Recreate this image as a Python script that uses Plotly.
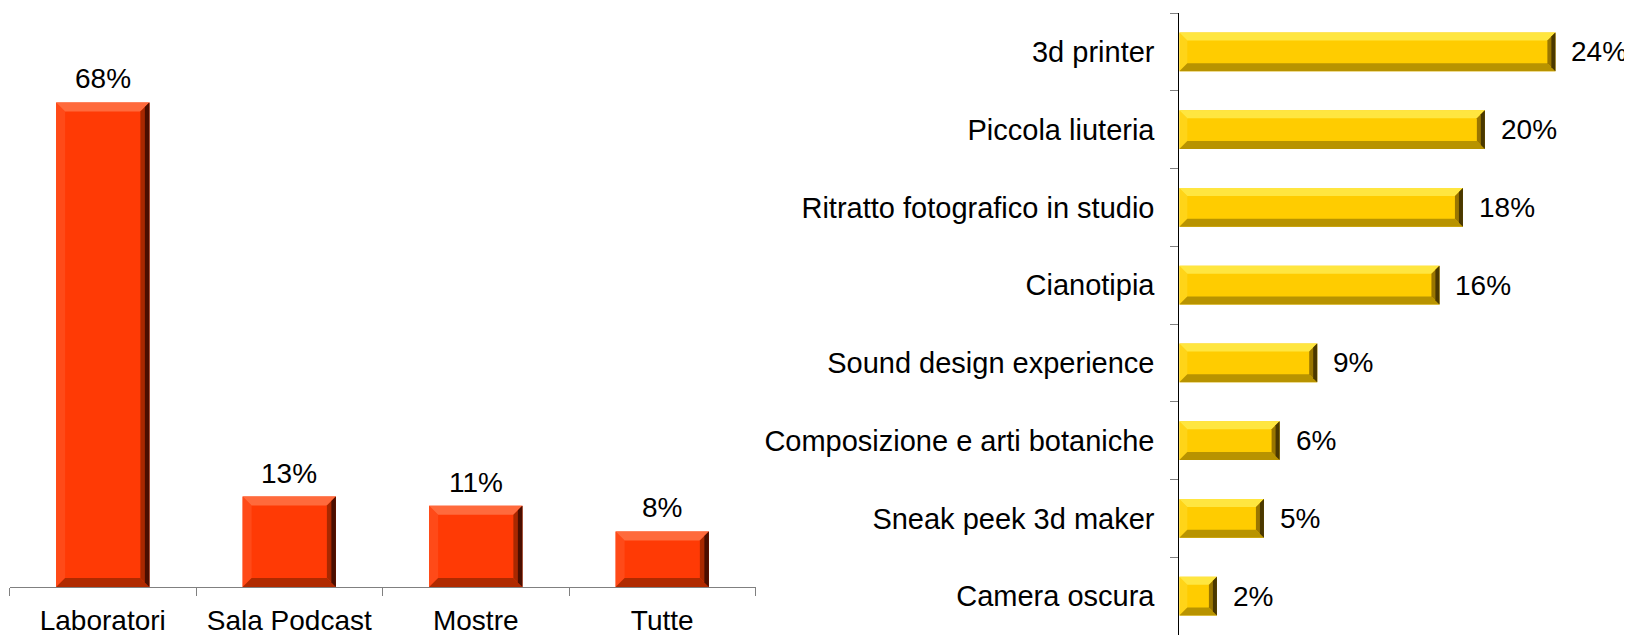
import plotly.graph_objects as go

# ---------------- data ----------------
left_categories = ["Laboratori", "Sala Podcast", "Mostre", "Tutte"]
left_values = [68, 12.7, 11.4, 7.8]
left_labels = ["68%", "13%", "11%", "8%"]

right_categories = ["3d printer", "Piccola liuteria", "Ritratto fotografico in studio",
                    "Cianotipia", "Sound design experience",
                    "Composizione e arti botaniche", "Sneak peek 3d maker", "Camera oscura"]
right_values = [24.0, 19.5, 18.1, 16.6, 8.8, 6.4, 5.4, 2.4]
right_labels = ["24%", "20%", "18%", "16%", "9%", "6%", "5%", "2%"]

# ---------------- style ----------------
OFF = 8                      # page offset of the plot div (body margin)
W, H = 1632 - OFF, 635 - OFF
FONT = "Liberation Sans, Arial, sans-serif"
RED = "#FF3A05"
YEL = "#FFCC00"
AXC = "#808080"

# positions in page pixels, converted to figure pixels
L_X0, L_X1 = 9.5 - OFF, 755.5 - OFF
L_BOT, L_TOP = 587 - OFF, 17 - OFF
L_YMAX = 80
R_X0, R_X1 = 1179.3 - OFF, 1632 - OFF
R_TOP, R_BOT = 13 - OFF, 635 - OFF
R_XMAX = (R_X1 - R_X0) / 15.67

fig = go.Figure()

fig.add_trace(go.Bar(
    x=left_categories, y=left_values, marker=dict(color=RED, line=dict(width=0)),
    xaxis="x", yaxis="y", width=0.5, hoverinfo="skip"))

fig.add_trace(go.Bar(
    y=right_categories, x=right_values, orientation="h",
    marker=dict(color=YEL, line=dict(width=0)),
    xaxis="x2", yaxis="y2", width=0.5, hoverinfo="skip"))

shapes = []

def poly(pts, color, xref, yref):
    d = "M " + " L ".join(f"{x},{y}" for x, y in pts) + " Z"
    return dict(type="path", path=d, xref=xref, yref=yref,
                fillcolor=color, line=dict(width=0), layer="above")

# bevels for vertical bars
px_per_cat = (L_X1 - L_X0) / len(left_categories)
px_per_y = (L_BOT - L_TOP) / L_YMAX
bpx = 9.0
bx = bpx / px_per_cat
by = bpx / px_per_y
h = 0.25
for i, v in enumerate(left_values):
    c = i
    shapes.append(poly([(c-h, 0), (c-h, v), (c-h+bx, v-by), (c-h+bx, by)], "#FF4A18", "x", "y"))
    shapes.append(poly([(c-h, 0), (c+h, 0), (c+h-bx, by), (c-h+bx, by)], "#B02A00", "x", "y"))
    shapes.append(poly([(c-h, v), (c+h, v), (c+h-bx, v-by), (c-h+bx, v-by)], "#FF6A3C", "x", "y"))
    shapes.append(poly([(c+h, v), (c+h, 0), (c+h-bx, by), (c+h-bx, v-by)], "#A82800", "x", "y"))
    shapes.append(poly([(c+h, v), (c+h, 0), (c+h-bx/2, by/2), (c+h-bx/2, v-by/2)], "#4A0E00", "x", "y"))

# bevels for horizontal bars
px_per_x = (R_X1 - R_X0) / R_XMAX
px_per_rcat = (R_BOT - R_TOP) / len(right_categories)
bpx2 = 8.0
bx2 = bpx2 / px_per_x
by2 = bpx2 / px_per_rcat
for j, v in enumerate(right_values):
    t, b = j - h, j + h
    shapes.append(poly([(0, t), (0, b), (bx2, b-by2), (bx2, t+by2)], "#FFD418", "x2", "y2"))
    shapes.append(poly([(0, t), (v, t), (v-bx2, t+by2), (bx2, t+by2)], "#FFE640", "x2", "y2"))
    shapes.append(poly([(0, b), (v, b), (v-bx2, b-by2), (bx2, b-by2)], "#B89300", "x2", "y2"))
    shapes.append(poly([(v, t), (v, b), (v-bx2, b-by2), (v-bx2, t+by2)], "#9A7600", "x2", "y2"))
    shapes.append(poly([(v, t), (v, b), (v-bx2/2, b-by2/2), (v-bx2/2, t+by2/2)], "#4A3800", "x2", "y2"))

annotations = []
for cat, v, lab in zip(left_categories, left_values, left_labels):
    annotations.append(dict(x=cat, y=v, xref="x", yref="y", text=lab, showarrow=False,
                            yanchor="bottom", xanchor="center", yshift=6,
                            font=dict(family=FONT, size=28, color="#000000")))
for cat, v, lab in zip(right_categories, right_values, right_labels):
    annotations.append(dict(x=v, y=cat, xref="x2", yref="y2", text=lab, showarrow=False,
                            yanchor="middle", xanchor="left", xshift=14,
                            font=dict(family=FONT, size=28, color="#000000")))

fig.update_layout(
    width=W, height=H, margin=dict(l=0, r=0, t=0, b=0),
    paper_bgcolor="white", plot_bgcolor="white", showlegend=False,
    barmode="overlay",
    font=dict(family=FONT, size=28, color="#000000"),
    xaxis=dict(domain=[L_X0 / W, L_X1 / W], type="category",
               showline=True, linecolor=AXC, linewidth=1,
               ticks="outside", tickson="boundaries", ticklen=8, tickcolor=AXC,
               showgrid=False, zeroline=False, tickfont=dict(size=28, color="#000000"),
               ticklabelstandoff=8, fixedrange=True),
    yaxis=dict(domain=[(H - L_BOT) / H, (H - L_TOP) / H], range=[0, L_YMAX],
               visible=False, showgrid=False, zeroline=False, fixedrange=True),
    xaxis2=dict(domain=[R_X0 / W, 1.0], range=[0, R_XMAX], anchor="y2",
                visible=False, showgrid=False, zeroline=False, fixedrange=True),
    yaxis2=dict(domain=[(H - R_BOT) / H, (H - R_TOP) / H], anchor="x2", type="category",
                categoryorder="array", categoryarray=right_categories,
                autorange="reversed",
                showline=True, linecolor="#000000", linewidth=1,
                ticks="outside", tickson="boundaries", ticklen=8, tickcolor=AXC,
                showgrid=False, zeroline=False, tickfont=dict(size=29, color="#000000"),
                ticklabelstandoff=18, fixedrange=True),
    shapes=shapes, annotations=annotations,
)

fig.write_html("out.html")
